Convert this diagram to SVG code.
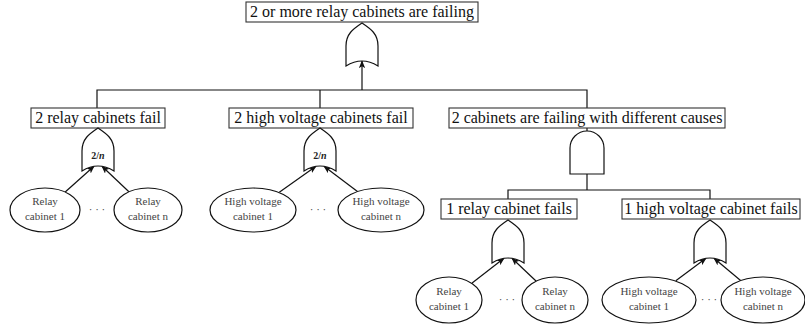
<svg xmlns="http://www.w3.org/2000/svg" width="805" height="325" viewBox="0 0 805 325">
<style>
.box{fill:#fff;stroke:#333;stroke-width:1.1}
.bt{font-family:"Liberation Serif",serif;font-size:16px;fill:#111;text-anchor:middle}
.gate{fill:#fff;stroke:#111;stroke-width:1.2}
.el{fill:#fff;stroke:#111;stroke-width:1.2}
.et{font-family:"Liberation Serif",serif;font-size:11px;fill:#444;text-anchor:middle}
.dots{font-family:"Liberation Serif",serif;font-size:11px;fill:#444;text-anchor:middle}
.gl{font-family:"Liberation Serif",serif;font-size:10px;font-weight:bold;fill:#222;text-anchor:middle}
.ln{fill:none;stroke:#111;stroke-width:1.2}
.ar{fill:none;stroke:#111;stroke-width:1.2;marker-end:url(#ah)}
</style>
<defs>
<marker id="ah" viewBox="0 0 10 8" refX="9" refY="4" markerWidth="8" markerHeight="6.4" markerUnits="userSpaceOnUse" orient="auto">
<path d="M0,0 L10,4 L0,8 L2.5,4 Z" fill="#111"/>
</marker>
<path id="orG" class="gate" d="M-16,43 L-16,23 C-16,11 -9,6 0,0 C9,6 16,11 16,23 L16,43 Q0,33 -16,43 Z"/>
<path id="andG" class="gate" d="M-17,43 L-17,17 A17,17 0 0 1 17,17 L17,43 Z"/>
</defs>

<g id="connectors">
<path class="ln" d="M97,108 V90 H587 V108"/>
<path class="ln" d="M320,90 V108"/>
<path class="ar" d="M362,90 V61"/>
<path class="ln" d="M587,128 V131"/>
<path class="ln" d="M587,174 V190"/>
<path class="ln" d="M508,199 V190 H710 V199"/>
<path class="ar" d="M65.2,192 L94,166.3"/>
<path class="ar" d="M128.9,191.8 L102,166.3"/>
<path class="ar" d="M279.3,192.2 L316,166.3"/>
<path class="ar" d="M357.8,191.8 L324,166.3"/>
<path class="ar" d="M472.1,282.9 L504,258.3"/>
<path class="ar" d="M536.5,281.5 L512,258.3"/>
<path class="ar" d="M675.8,280.8 L706,258.3"/>
<path class="ar" d="M740.9,280.8 L714,258.3"/>
</g>

<g id="top">
<rect class="box" x="246" y="2" width="232" height="20"/>
<text class="bt" x="362" y="17">2 or more relay cabinets are failing</text>
</g>
<g id="top-or"><use href="#orG" x="362" y="23"/></g>

<g id="relay2">
<rect class="box" x="31" y="108" width="134" height="20"/>
<text class="bt" x="98" y="123">2 relay cabinets fail</text>
</g>
<g id="relay2-gate"><use href="#orG" x="98" y="128"/><text class="gl" x="98" y="159">2/<tspan font-style="italic">n</tspan></text></g>
<g id="relay2-c1"><ellipse class="el" cx="45" cy="210" rx="35" ry="22"/><text class="et" x="45" y="205">Relay</text><text class="et" x="45" y="220">cabinet 1</text></g>
<g id="relay2-dots"><text class="dots" x="97" y="213">· · ·</text></g>
<g id="relay2-cn"><ellipse class="el" cx="148" cy="210" rx="34" ry="22"/><text class="et" x="148" y="205">Relay</text><text class="et" x="148" y="220">cabinet n</text></g>

<g id="hv2">
<rect class="box" x="229" y="108" width="184" height="20"/>
<text class="bt" x="321" y="123">2 high voltage cabinets fail</text>
</g>
<g id="hv2-gate"><use href="#orG" x="320" y="128"/><text class="gl" x="320" y="159">2/<tspan font-style="italic">n</tspan></text></g>
<g id="hv2-c1"><ellipse class="el" cx="253" cy="210" rx="43" ry="22"/><text class="et" x="253" y="205">High voltage</text><text class="et" x="253" y="220">cabinet 1</text></g>
<g id="hv2-dots"><text class="dots" x="318" y="213">· · ·</text></g>
<g id="hv2-cn"><ellipse class="el" cx="381" cy="210" rx="43" ry="22"/><text class="et" x="381" y="205">High voltage</text><text class="et" x="381" y="220">cabinet n</text></g>

<g id="diff">
<rect class="box" x="449" y="108" width="276" height="20"/>
<text class="bt" x="587" y="123">2 cabinets are failing with different causes</text>
</g>
<g id="diff-and"><use href="#andG" x="587" y="131"/></g>

<g id="relay1">
<rect class="box" x="441" y="199" width="136" height="20"/>
<text class="bt" x="509" y="214">1 relay cabinet fails</text>
</g>
<g id="relay1-gate"><use href="#orG" x="508" y="220"/></g>
<g id="relay1-c1"><ellipse class="el" cx="449" cy="300" rx="33" ry="23"/><text class="et" x="449" y="295">Relay</text><text class="et" x="449" y="310">cabinet 1</text></g>
<g id="relay1-dots"><text class="dots" x="507" y="303">· · ·</text></g>
<g id="relay1-cn"><ellipse class="el" cx="555" cy="300" rx="33" ry="23"/><text class="et" x="555" y="295">Relay</text><text class="et" x="555" y="310">cabinet n</text></g>

<g id="hv1">
<rect class="box" x="622" y="199" width="178" height="20"/>
<text class="bt" x="711" y="214">1 high voltage cabinet fails</text>
</g>
<g id="hv1-gate"><use href="#orG" x="710" y="220"/></g>
<g id="hv1-c1"><ellipse class="el" cx="649" cy="300" rx="47" ry="23"/><text class="et" x="649" y="295">High voltage</text><text class="et" x="649" y="310">cabinet 1</text></g>
<g id="hv1-dots"><text class="dots" x="709" y="303">· · ·</text></g>
<g id="hv1-cn"><ellipse class="el" cx="763" cy="300" rx="42" ry="23"/><text class="et" x="763" y="295">High voltage</text><text class="et" x="763" y="310">cabinet n</text></g>
</svg>
